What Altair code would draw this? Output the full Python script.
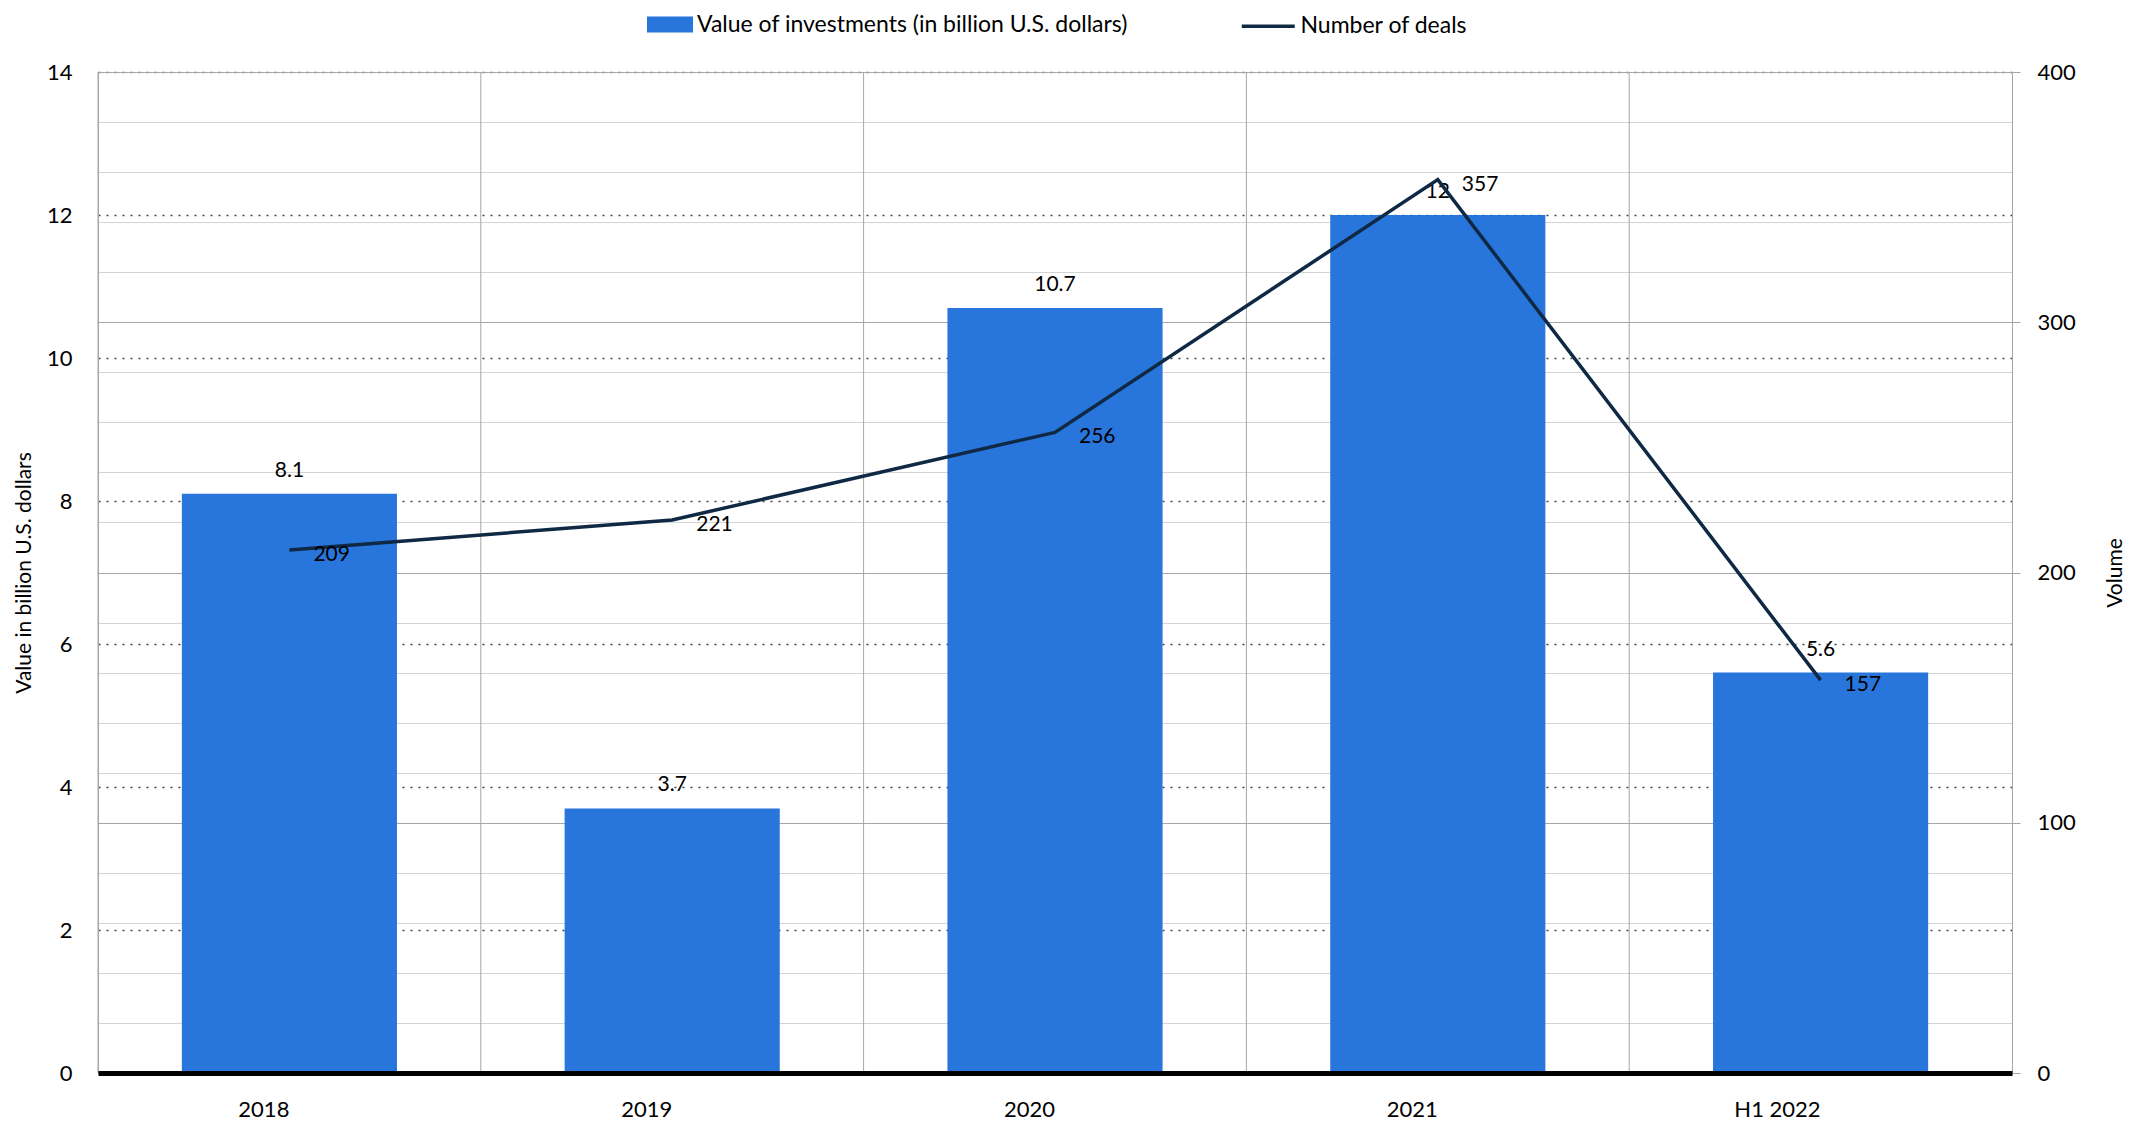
import altair as alt
import pandas as pd

categories = ["2018", "2019", "2020", "2021", "H1 2022"]
investment = [8.1, 3.7, 10.7, 12, 5.6]
deals = [209, 221, 256, 357, 157]
inv_labels = ["8.1", "3.7", "10.7", "12", "5.6"]
deal_labels = ["209", "221", "256", "357", "157"]

BAR_SERIES = "Value of investments (in billion U.S. dollars)"
LINE_SERIES = "Number of deals"
LEFT_TITLE = "Value in billion U.S. dollars"
RIGHT_TITLE = "Volume"
left_ticks = [0, 2, 4, 6, 8, 10, 12, 14]
right_ticks = list(range(0, 401, 10))

BLUE = "#2876DC"
NAVY = "#0F2944"
FONT = "Lato"
W, H = 1914, 1001

df = pd.DataFrame({
    "category": categories,
    "investment": investment,
    "deals": deals,
    "inv_label": inv_labels,
    "deal_label": deal_labels,
    "bar_series": [BAR_SERIES] * 5,
    "line_series": [LINE_SERIES] * 5,
})

base = alt.Chart(df)

x_enc = alt.X(
    "category:N", sort=categories,
    scale=alt.Scale(paddingInner=0, paddingOuter=0),
    axis=alt.Axis(title=None, labelAngle=0, labelFont=FONT, labelFontSize=22,
                  labelColor="#000000", labelPadding=36, ticks=False,
                  domainColor="#000000", domainWidth=5, grid=False, zindex=1),
)

y_left = alt.Y(
    "investment:Q",
    scale=alt.Scale(domain=[0, 14], nice=False),
    axis=alt.Axis(values=left_ticks, format="d", title=LEFT_TITLE, titleFont=FONT,
                  titleFontSize=21, titleFontWeight="normal", titleColor="#000000",
                  titleX=-74, titleY=H / 2, titleAngle=270, titleAlign="center",
                  titleBaseline="middle",
                  labelFont=FONT, labelFontSize=22, labelColor="#000000",
                  labelPadding=26, ticks=False, domainColor="#a6a6a6",
                  grid=True, gridColor="#404040", gridDash=[2, 6], gridWidth=1.5),
)

y_right = alt.Y(
    "deals:Q",
    scale=alt.Scale(domain=[0, 400], nice=False),
    axis=alt.Axis(orient="right", values=right_ticks, format="d", title=RIGHT_TITLE,
                  titleFont=FONT, titleFontSize=21, titleFontWeight="normal",
                  titleColor="#000000", titleX=103, titleY=H / 2, titleAngle=270,
                  titleAlign="center", titleBaseline="middle",
                  labelExpr="datum.value % 50 == 0 ? datum.label : ''",
                  labelFont=FONT, labelFontSize=22, labelColor="#000000",
                  labelPadding=17, tickSize=8,
                  tickColor={"condition": {"test": "datum.value % 50 === 0", "value": "#a6a6a6"},
                             "value": "rgba(0,0,0,0)"},
                  domainColor="#a6a6a6",
                  grid=True,
                  gridColor={"condition": {"test": "datum.value % 50 === 0", "value": "#a6a6a6"},
                             "value": "#d4d4d4"},
                  gridWidth=1),
)

vgrid = base.mark_rule(color="#a6a6a6", strokeWidth=1).encode(
    x=alt.X("category:N", sort=categories, bandPosition=0)
)

bars = base.mark_bar(width=alt.RelativeBandSize(0.562)).encode(
    x=x_enc,
    y=y_left,
    color=alt.Color(
        "bar_series:N",
        scale=alt.Scale(domain=[BAR_SERIES], range=[BLUE]),
        legend=alt.Legend(title=None, orient="none", legendX=560.5, legendY=-59,
                          padding=0, labelFont=FONT, labelFontSize=23,
                          labelColor="#000000", labelLimit=1000, labelOffset=15.5,
                          symbolType="M-2,-0.7L2,-0.7L2,0.7L-2,0.7Z",
                          symbolSize=529, symbolStrokeWidth=0, symbolOpacity=1),
    ),
)

bar_text = base.mark_text(dy=-23, baseline="middle", font=FONT, fontSize=21,
                          color="#000000").encode(
    x=alt.X("category:N", sort=categories),
    y=alt.Y("investment:Q"),
    text="inv_label:N",
)

line = base.mark_line(strokeWidth=3.5).encode(
    x=alt.X("category:N", sort=categories),
    y=y_right,
    stroke=alt.Stroke(
        "line_series:N",
        scale=alt.Scale(domain=[LINE_SERIES], range=[NAVY]),
        legend=alt.Legend(title=None, orient="none", legendX=1155.25, legendY=-60.75,
                          padding=0, labelFont=FONT, labelFontSize=23,
                          labelColor="#000000", labelLimit=1000, labelOffset=17.25,
                          symbolType="M-2,0L2,0", symbolSize=702.25,
                          symbolStrokeWidth=3.5),
    ),
)

line_text = base.mark_text(align="left", dx=24, dy=5, baseline="middle", font=FONT,
                           fontSize=21, color="#000000").encode(
    x=alt.X("category:N", sort=categories),
    y=alt.Y("deals:Q"),
    text="deal_label:N",
)

left = alt.layer(vgrid, bars, bar_text)
right = alt.layer(line, line_text)

chart = alt.layer(left, right).resolve_scale(
    y="independent", color="independent", stroke="independent"
).properties(
    width=W, height=H,
    autosize=alt.AutoSizeParams(type="none"),
    padding={"left": 90, "top": 64, "right": 116, "bottom": 49},
    background="#ffffff",
).configure_view(strokeWidth=0)

chart.save("out.html", embed_options={"renderer": "svg", "actions": False})
